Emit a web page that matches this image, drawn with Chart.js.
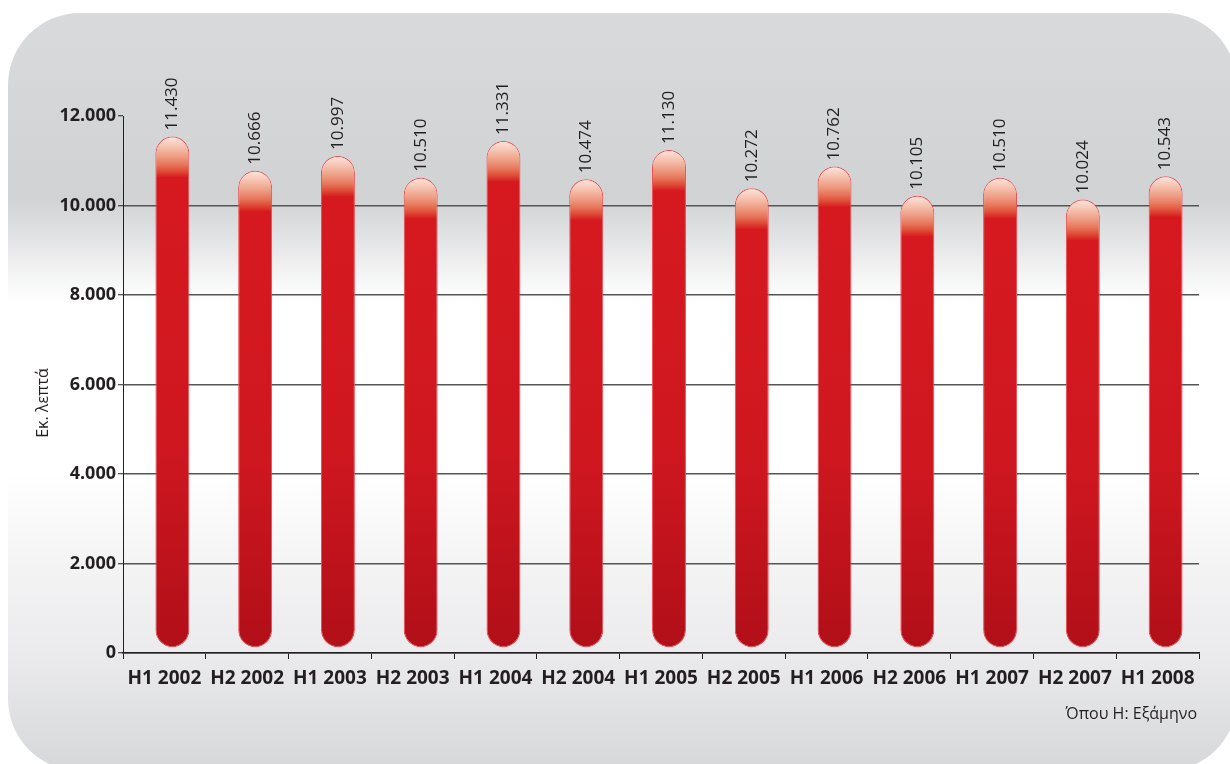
<!DOCTYPE html>
<html>
<head>
<meta charset="utf-8">
<script src="https://cdn.jsdelivr.net/npm/chart.js@4.4.0/dist/chart.umd.min.js"></script>
<style>
    body { margin: 0; background: #fff; }
    #box { width: 1230px; height: 764px; position: relative; }
</style>
</head>
<body>
<div id="box"><canvas id="grafico"></canvas></div>
<script>
const semestres = ['H1 2002', 'H2 2002', 'H1 2003', 'H2 2003', 'H1 2004', 'H2 2004', 'H1 2005',
    'H2 2005', 'H1 2006', 'H2 2006', 'H1 2007', 'H2 2007', 'H1 2008'];
const minutos = [11430, 10666, 10997, 10510, 11331, 10474, 11130, 10272, 10762, 10105, 10510, 10024, 10543];
const tituloY = 'Εκ. λεπτά';
const nota = 'Όπου Η: Εξάμηνο';

const fonte = "'Open Sans', sans-serif";
const desloc = { x: 8, y: -5 };

function formatar(v) {
    return String(v).replace(/\B(?=(\d{3})+(?!\d))/g, '.');
}

// gradiente da barra: topo claro, corpo vermelho
function corBarra(context) {
    const chart = context.chart;
    const y = chart.scales.y;
    if (!y || context.raw == null) return '#d5181f';
    const topo = y.getPixelForValue(context.raw);
    const base = y.getPixelForValue(0);
    const h = base - topo;
    if (!isFinite(topo) || !isFinite(base) || h < 60) return '#d5181f';
    const g = chart.ctx.createLinearGradient(0, topo, 0, base);
    g.addColorStop(0, '#fde6de');
    g.addColorStop(10 / h, '#f6c3b0');
    g.addColorStop(20 / h, '#ee9c82');
    g.addColorStop(28 / h, '#e7765b');
    g.addColorStop(34 / h, '#e0503a');
    g.addColorStop(38 / h, '#da3229');
    g.addColorStop(41 / h, '#d6191f');
    g.addColorStop(0.6, '#cf1720');
    g.addColorStop(1, '#b10f19');
    return g;
}

const fundo = {
    id: 'fundo',
    beforeDraw(chart) {
        const c = chart.ctx;
        c.save();
        const g = c.createLinearGradient(0, 13, 0, 771);
        g.addColorStop(0, '#d9dadc');
        g.addColorStop(185 / 758, '#d1d2d4');
        g.addColorStop(225 / 758, '#e2e3e5');
        g.addColorStop(270 / 758, '#f8f8f8');
        g.addColorStop(290 / 758, '#ffffff');
        g.addColorStop(460 / 758, '#ffffff');
        g.addColorStop(550 / 758, '#f4f4f5');
        g.addColorStop(640 / 758, '#ebebed');
        g.addColorStop(1, '#d6d7d9');
        c.fillStyle = g;
        c.beginPath();
        c.roundRect(8, 13, 1229, 758, 72);
        c.fill();
        c.restore();
    },
    beforeDatasetsDraw(chart) {
        chart.ctx.save();
        chart.ctx.translate(desloc.x, desloc.y);
    },
    afterDatasetsDraw(chart) {
        const c = chart.ctx;
        c.restore();

        // valores acima das barras
        const meta = chart.getDatasetMeta(0);
        c.save();
        c.fillStyle = '#231f20';
        c.font = '17px ' + fonte;
        c.textAlign = 'left';
        c.textBaseline = 'middle';
        meta.data.forEach((bar, i) => {
            c.save();
            c.translate(bar.x + desloc.x, bar.y + desloc.y - 6);
            c.rotate(-Math.PI / 2);
            c.fillText(formatar(minutos[i]), 0, 0);
            c.restore();
        });

        // titulo do eixo y
        c.save();
        c.translate(43, 403);
        c.rotate(-Math.PI / 2);
        c.textAlign = 'center';
        c.font = '16px ' + fonte;
        c.fillText(tituloY, 0, 0);
        c.restore();

        // nota
        c.textAlign = 'right';
        c.font = '16px ' + fonte;
        c.fillText(nota, 1197, 714);
        c.restore();
    }
};

new Chart(document.getElementById('grafico'), {
    type: 'bar',
    data: {
        labels: semestres,
        datasets: [{
            data: minutos,
            backgroundColor: corBarra,
            borderColor: '#ee4a52',
            borderWidth: 1,
            borderRadius: 17,
            borderSkipped: false,
            categoryPercentage: 1,
            barPercentage: 0.41,
            clip: false
        }]
    },
    options: {
        responsive: true,
        maintainAspectRatio: false,
        animation: false,
        layout: { padding: { top: 116, right: 31, left: 0, bottom: 0 } },
        plugins: {
            legend: { display: false },
            tooltip: { enabled: false }
        },
        scales: {
            x: {
                afterFit: s => { s.height = 111; },
                grid: {
                    drawOnChartArea: false,
                    drawTicks: true,
                    tickLength: 6,
                    tickColor: '#231f20'
                },
                border: { color: '#231f20', width: 1.5 },
                ticks: {
                    color: '#231f20',
                    padding: 8,
                    maxRotation: 0,
                    autoSkip: false,
                    font: { family: fonte, size: 19, weight: 'bold' }
                }
            },
            y: {
                min: 0,
                max: 12000,
                afterFit: s => { s.width = 123; },
                grid: {
                    color: c => (c.tick && c.tick.value === 12000) ? 'rgba(0,0,0,0)' : '#555',
                    lineWidth: 1.5,
                    tickLength: 5,
                    tickColor: '#231f20',
                    tickWidth: 1
                },
                border: { color: '#231f20', width: 1 },
                ticks: {
                    stepSize: 2000,
                    color: '#231f20',
                    padding: 2,
                    font: { family: fonte, size: 18, weight: 'bold' },
                    callback: v => formatar(v)
                }
            }
        }
    },
    plugins: [fundo]
});
</script>
</body>
</html>
